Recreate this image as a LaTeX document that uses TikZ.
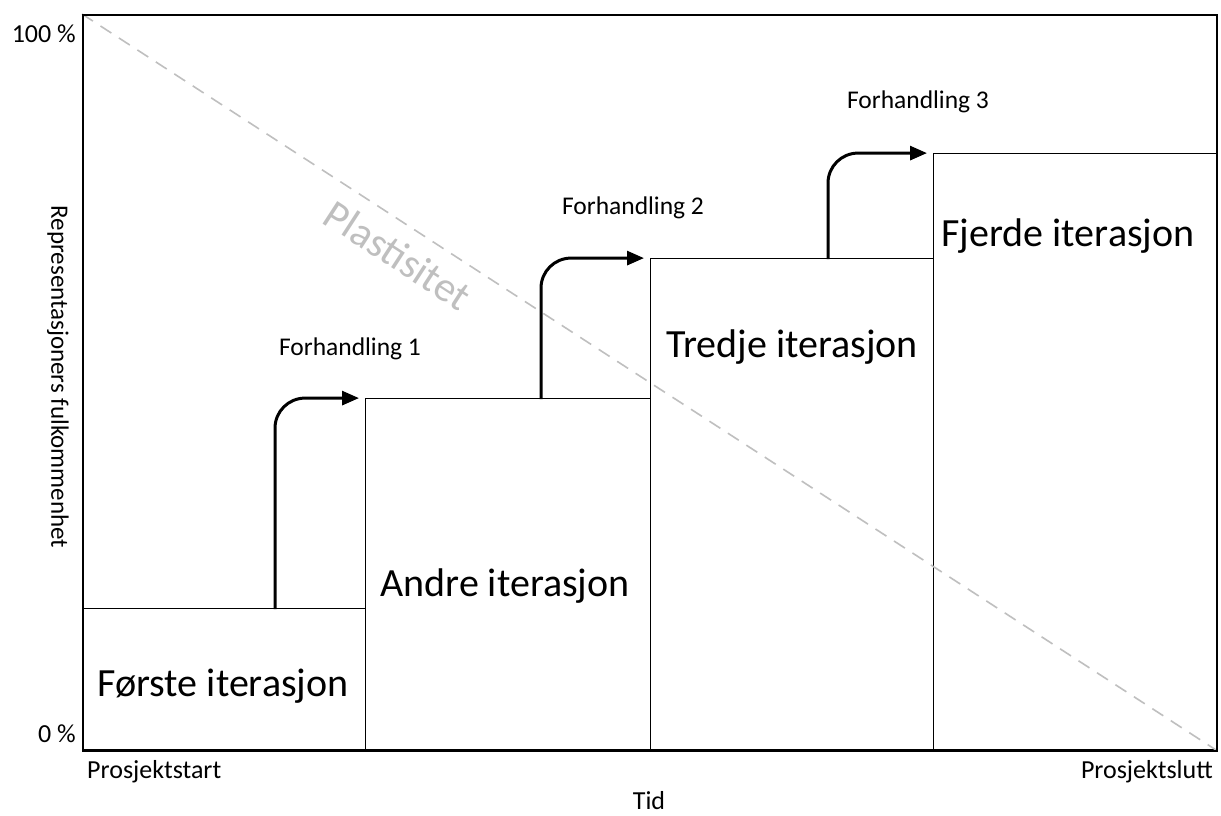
\documentclass[tikz,border=0pt]{standalone}
\usepackage{fontspec}
\setmainfont{Carlito}
\usetikzlibrary{arrows.meta}
\tikzset{
  iterbox/.style={draw=black, line width=0.9pt, fill=white, inner sep=0pt, anchor=south west},
  itertext/.style={font=\fontsize{40}{44}\selectfont, anchor=center},
  small/.style={font=\fontsize{25.5}{28}\selectfont, inner sep=0pt},
  axislab/.style={font=\fontsize{26}{30}\selectfont, inner sep=0pt},
  negarrow/.style={line width=3pt, rounded corners=30pt, -{Triangle[length=17pt,width=14pt]}, shorten >=6pt},
  plast/.style={draw=black!25, line width=1.6pt, dash pattern=on 13pt off 9pt},
}
\begin{document}
\begin{tikzpicture}[x=1pt,y=-1pt]
\useasboundingbox (0,0) rectangle (1221,816);
% dashed line
\coordinate (ptop) at (82,14);
\coordinate (pbot) at (1216,750);
% boxes
\node[iterbox, minimum width=283pt, minimum height=141pt] (box1) at (82,750) {};
\node[iterbox, minimum width=285pt, minimum height=351pt] (box2) at (365,750) {};
\node[iterbox, minimum width=283pt, minimum height=491pt] (box3) at (650,750) {};
\node[iterbox, minimum width=283pt, minimum height=596pt] (box4) at (933,750) {};
\draw[plast] (ptop) -- (pbot);
\node[itertext] (t1) at (223,686) {Første iterasjon};
\node[itertext] (t2) at (505,586) {Andre iterasjon};
\node[itertext] (t3) at (792,347) {Tredje iterasjon};
\node[itertext] (t4) at (1068,236) {Fjerde iterasjon};
% frame
\node[draw=black, line width=1.8pt, minimum width=1134pt, minimum height=736pt, inner sep=0pt, anchor=north west] (frame) at (82,14) {};
% negotiation arrows
\coordinate (a1) at (275,609);
\coordinate (a2) at (541,399);
\coordinate (a3) at (828,259);
\draw[negarrow] (a1) |- (box2.north west);
\draw[negarrow] (a2) |- (box3.north west);
\draw[negarrow] (a3) |- (box4.north west);
\node[small] (f1) at (350,349) {Forhandling 1};
\node[small] (f2) at (633,208) {Forhandling 2};
\node[small] (f3) at (918,102) {Forhandling 3};
% plasticity label
\node[font=\fontsize{42}{46}\selectfont, text=black!25, rotate=-33, inner sep=0pt] (pl) at (398,255) {Plastisitet};
% axis labels
\node[axislab, anchor=east] (y100) at (76,34) {100~\%};
\node[axislab, anchor=east] (y0) at (76,734) {0~\%};
\node[axislab, anchor=west] (xs) at (87,772) {Prosjektstart};
\node[axislab, anchor=east] (xe) at (1213,772) {Prosjektslutt};
\node[axislab, anchor=base] (tid) at (649,809) {Tid};
\node[font=\fontsize{25}{28}\selectfont, rotate=-90, inner sep=0pt] (ylab) at (58,377) {Representasjoners fulkommenhet};
\end{tikzpicture}
\end{document}
